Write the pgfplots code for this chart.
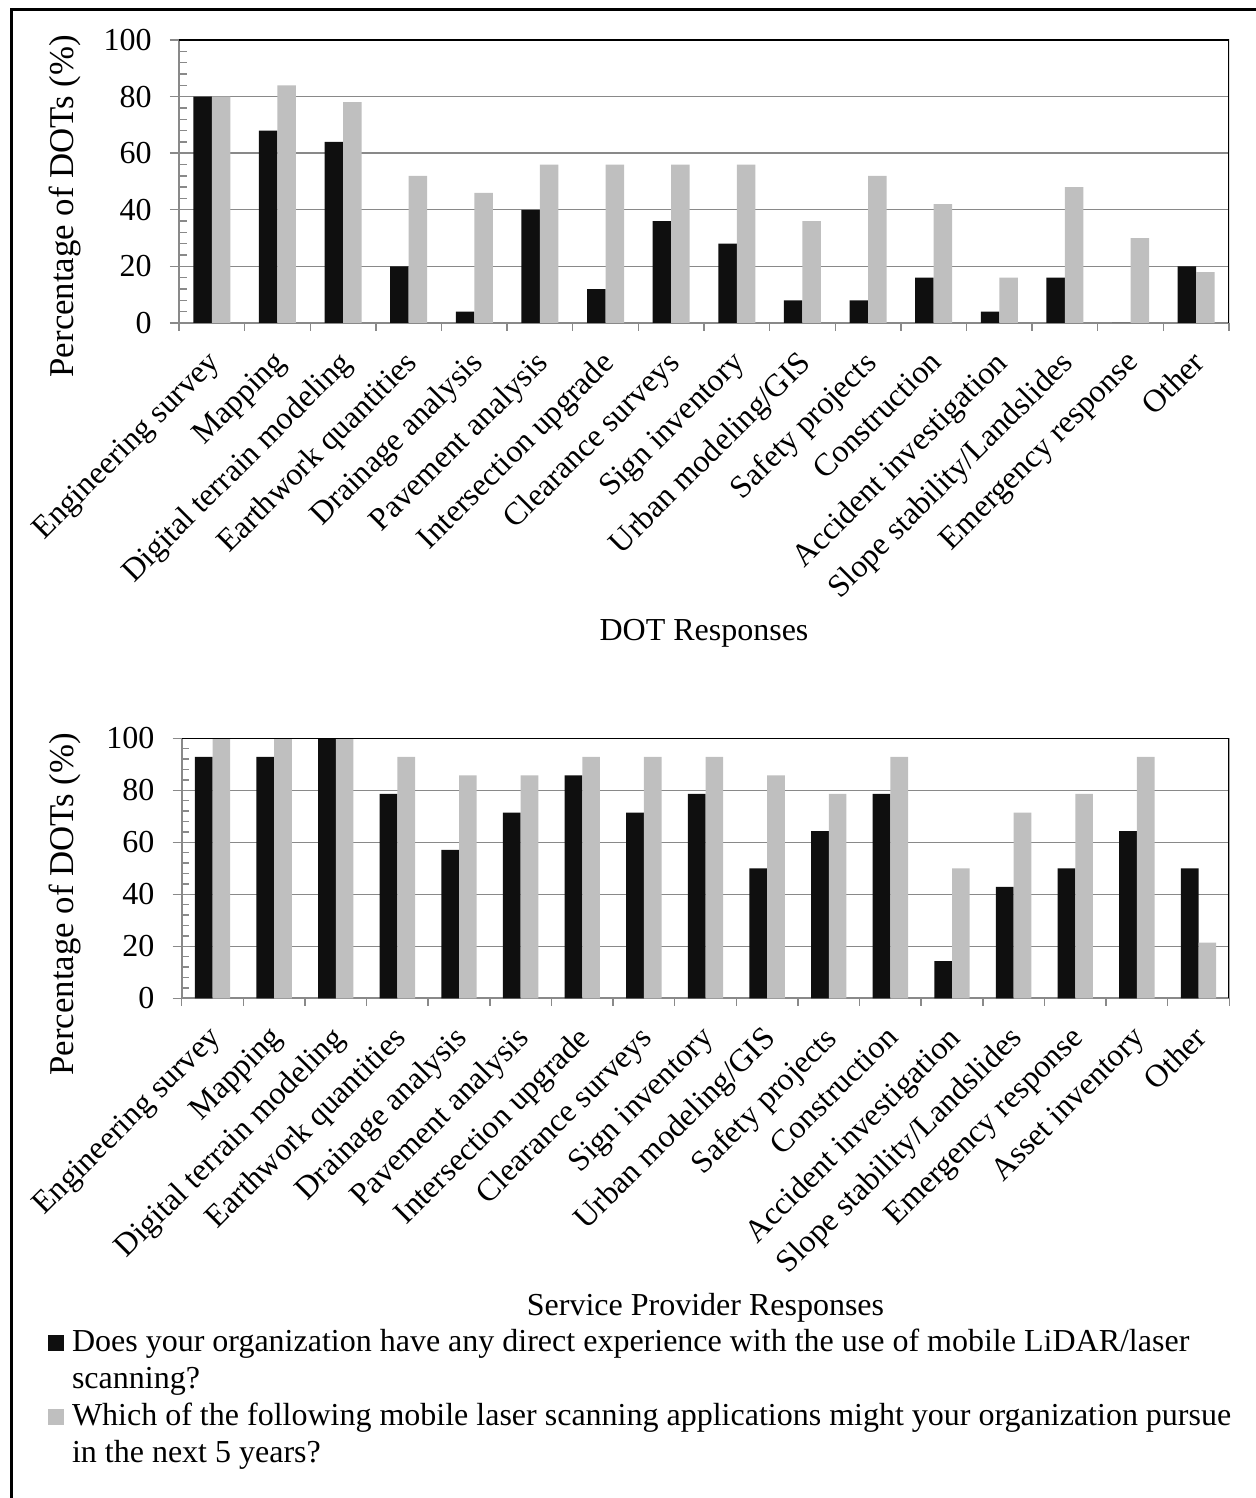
\documentclass[border=0pt]{standalone}
\usepackage{pgfplots}
\pgfplotsset{compat=1.18}
\usepackage{fontspec}
\setmainfont{Liberation Serif}

\definecolor{barblack}{HTML}{0F0F0F}
\definecolor{bargray}{HTML}{BFBFBF}
\definecolor{axisgray}{HTML}{898989}

\newcommand{\chartfont}{\fontsize{16}{18.5}\selectfont}
\newcommand{\ylabelfont}{\fontsize{17.4}{20}\selectfont}

\pgfplotsset{
  responses/.style={
    scale only axis,
    ybar=0pt,
    ymin=0, ymax=100,
    ytick={0,20,...,100},
    minor y tick num=4,
    ymajorgrids,
    major grid style={axisgray, line width=0.7pt},
    axis x line*=bottom,
    axis y line*=left,
    axis line style={axisgray, line width=0.8pt},
    tick style={axisgray, line width=0.7pt},
    xtick align=outside,
    ytick align=inside,
    major tick length=4.5pt,
    minor tick length=3.8pt,
    major x tick style={draw=none},
    major y tick style={xshift=-4.5pt},
    xtick=data,
    font=\chartfont,
    /pgf/number format/assume math mode=true,
    yticklabel style={anchor=east, inner sep=0pt, xshift=-13.5pt, font=\chartfont},
    xticklabel style={xshift=-3pt, rotate=45, anchor=north east, inner sep=0pt, font=\chartfont},
    xticklabel shift=8.25pt,
    xlabel style={font=\chartfont},
    ylabel style={font=\ylabelfont},
    ylabel={Percentage of DOTs (\%)},
  },
  blackbars/.style={fill=barblack, draw=none,
    legend image code/.code={\fill[barblack] (0pt,0pt) rectangle (8pt,8pt);}},
  graybars/.style={fill=bargray, draw=none,
    legend image code/.code={\fill[bargray] (0pt,0pt) rectangle (8pt,8pt);}},
}

\begin{document}
\begin{tikzpicture}
\useasboundingbox (0,0) rectangle (628pt,749pt);
% outer frame
\draw[line width=1.5pt] (5.75pt,0pt) -- (5.75pt,744.25pt) -- (628pt,744.25pt);

% DOT responses
\begin{axis}[responses,
  at={(89.5pt,587.5pt)}, anchor=south west,
  width=525pt, height=141.5pt,
  xmin=-0.5, xmax=15.5,
  minor xtick={-0.5,0.5,...,15.5},
  bar width=9.25pt,
  xticklabels={Engineering survey, Mapping, Digital terrain modeling, Earthwork quantities, Drainage analysis, Pavement analysis, Intersection upgrade, Clearance surveys, Sign inventory, Urban modeling/GIS, Safety projects, Construction, Accident investigation, Slope stability/Landslides, Emergency response, Other},
  xlabel={DOT Responses},
  xlabel style={at={(axis description cs:0.5,-1.095)}, anchor=center},
  ylabel style={at={(axis description cs:-0.1086,0.413)}, anchor=center},
]
\addplot[blackbars, bar shift=-4.625pt] coordinates {(0,80) (1,68) (2,64) (3,20) (4,4) (5,40) (6,12) (7,36) (8,28) (9,8) (10,8) (11,16) (12,4) (13,16) (14,0) (15,20)};
\addplot[graybars, bar shift=4.625pt] coordinates {(0,80) (1,84) (2,78) (3,52) (4,46) (5,56) (6,56) (7,56) (8,56) (9,36) (10,52) (11,42) (12,16) (13,48) (14,30) (15,18)};
\draw[black, line width=1pt] (rel axis cs:0,1) -- (rel axis cs:1,1) -- (rel axis cs:1,0);
\end{axis}

% Service provider responses
\begin{axis}[responses,
  at={(90.85pt,249.85pt)}, anchor=south west,
  width=523.8pt, height=130pt,
  xmin=-0.5, xmax=16.5,
  minor xtick={-0.5,0.5,...,16.5},
  bar width=8.85pt,
  xticklabels={Engineering survey, Mapping, Digital terrain modeling, Earthwork quantities, Drainage analysis, Pavement analysis, Intersection upgrade, Clearance surveys, Sign inventory, Urban modeling/GIS, Safety projects, Construction, Accident investigation, Slope stability/Landslides, Emergency response, Asset inventory, Other},
  xlabel={Service Provider Responses},
  xlabel style={at={(axis description cs:0.5,-1.191)}, anchor=center},
  ylabel style={at={(axis description cs:-0.1114,0.3615)}, anchor=center},
  legend style={draw=none, fill=none, inner sep=0pt, outer sep=0pt,
    at={(axis description cs:-0.1276,-1.270)}, anchor=north west,
    font=\chartfont,
    row sep={18.5pt,between origins},
    cells={anchor=base west},
    nodes={inner sep=0pt},
    /tikz/every odd column/.append style={column sep=4pt}},
]
\addplot[blackbars, bar shift=-4.425pt] coordinates {(0,92.9) (1,92.9) (2,100) (3,78.6) (4,57.1) (5,71.4) (6,85.7) (7,71.4) (8,78.6) (9,50) (10,64.3) (11,78.6) (12,14.3) (13,42.9) (14,50) (15,64.3) (16,50)};
\addlegendentry{Does your organization have any direct experience with the use of mobile LiDAR/laser}
\addlegendimage{empty legend}
\addlegendentry{scanning?}
\addplot[graybars, bar shift=4.425pt] coordinates {(0,100) (1,100) (2,100) (3,92.9) (4,85.7) (5,85.7) (6,92.9) (7,92.9) (8,92.9) (9,85.7) (10,78.6) (11,92.9) (12,50) (13,71.4) (14,78.6) (15,92.9) (16,21.4)};
\addlegendentry{Which of the following mobile laser scanning applications might your organization pursue}
\addlegendimage{empty legend}
\addlegendentry{in the next 5 years?}
\draw[black, line width=1pt] (rel axis cs:0,1) -- (rel axis cs:1,1) -- (rel axis cs:1,0);
\end{axis}
\end{tikzpicture}
\end{document}
